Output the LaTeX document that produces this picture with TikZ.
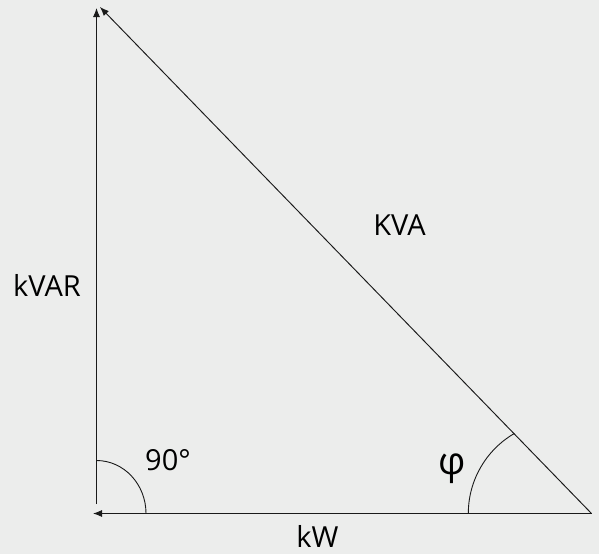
\documentclass[tikz,border=0pt]{standalone}
\usepackage{fontspec}
\setmainfont{Open Sans}
\usetikzlibrary{arrows.meta}
\definecolor{bg}{HTML}{ECEDEC}
\definecolor{ln}{HTML}{1A1A1A}
\begin{document}
\begin{tikzpicture}[x=1pt,y=-1pt,
  vec/.style={draw=ln,line width=0.95pt,-{Latex[length=9pt,width=7pt]}},
  arcline/.style={draw=ln,line width=0.9pt},
  lbl/.style={inner sep=0pt,font=\fontsize{29}{34}\selectfont,text=black}]
\fill[bg] (0,0) rectangle (599,554);
\useasboundingbox (0,0) rectangle (599,554);
\coordinate (vb) at (96.5,504);
\coordinate (vt) at (96.5,8);
\coordinate (R) at (591.5,513.5);
\coordinate (ht) at (100,7);
\coordinate (hl) at (93,513.5);
\draw[vec] (vb) -- (vt);
\draw[vec] (R) -- (ht);
\draw[vec] (R) -- (hl);
\coordinate (a1) at (146,513.5);
\draw[arcline] (a1) arc[start angle=0,end angle=90,x radius=49.5,y radius=-53];
\coordinate (a2) at (468.3,513.5);
\draw[arcline] (a2) arc[start angle=180,end angle=120.2,x radius=92.6,y radius=-92.6];
\node[lbl] (kvar) at (47,285) {kVAR};
\node[lbl] (kva) at (399.5,225.5) {KVA};
\node[lbl] (kw) at (317.5,536.5) {kW};
\node[lbl] (ninety) at (168,460.5) {90°};
\node[lbl,font=\fontsize{38}{44}\selectfont] (phi) at (452,469) {φ};
\end{tikzpicture}
\end{document}
